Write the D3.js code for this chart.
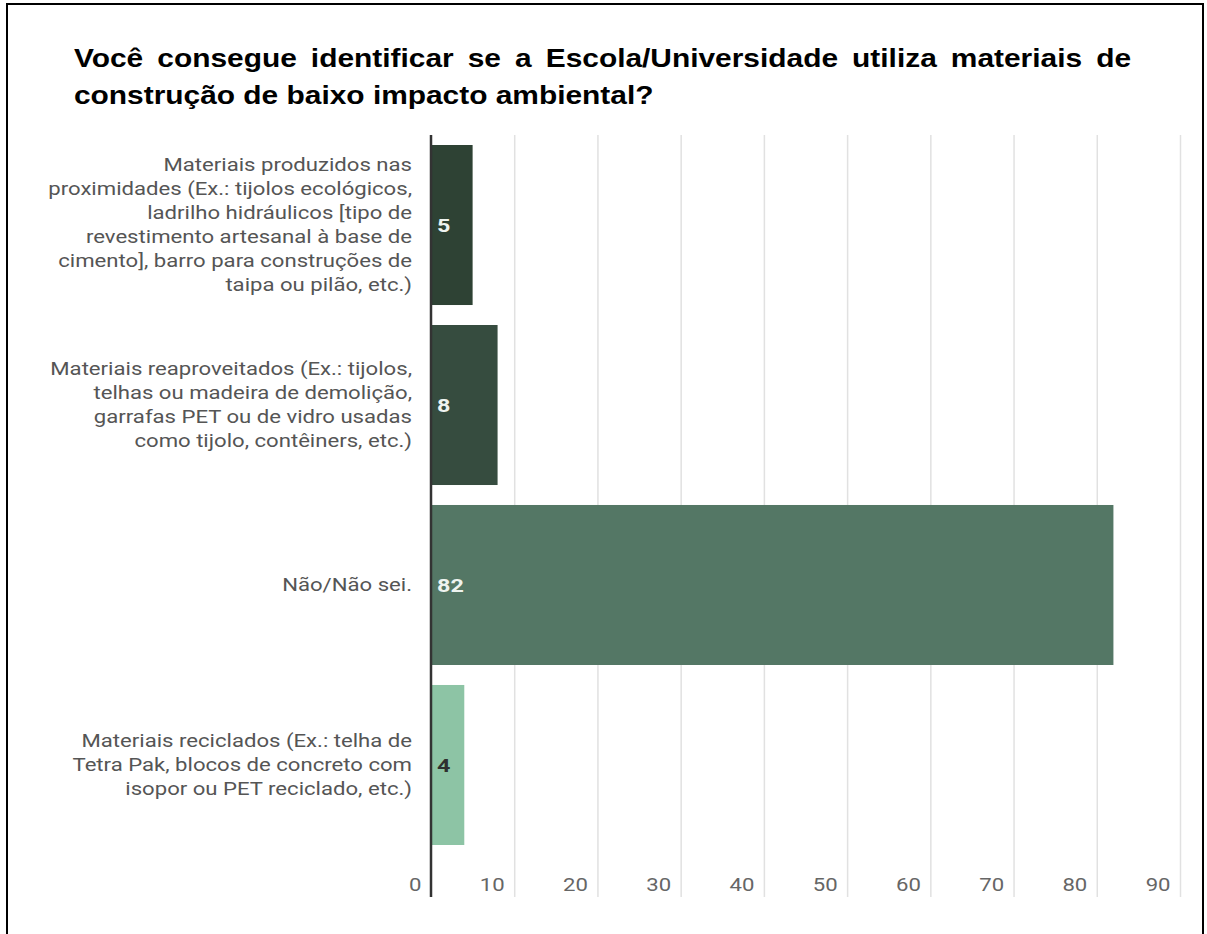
<!DOCTYPE html>
<html>
<head>
<meta charset="utf-8">
<script src="https://cdn.jsdelivr.net/npm/d3@7"></script>
<style>
  html, body { margin: 0; padding: 0; background: #fff; }
  svg { display: block; }
</style>
</head>
<body>
<svg id="chart" width="1207" height="934"></svg>
<script>
// ---- data ----
const titleLines = [
  "Você consegue identificar se a Escola/Universidade utiliza materiais de",
  "construção de baixo impacto ambiental?"
];
const categories = [
  "Materiais produzidos nas proximidades (Ex.: tijolos ecológicos, ladrilho hidráulicos [tipo de revestimento artesanal à base de cimento], barro para construções de taipa ou pilão, etc.)",
  "Materiais reaproveitados (Ex.: tijolos, telhas ou madeira de demolição, garrafas PET ou de vidro usadas como tijolo, contêiners, etc.)",
  "Não/Não sei.",
  "Materiais reciclados (Ex.: telha de Tetra Pak, blocos de concreto com isopor ou PET reciclado, etc.)"
];
const categoryLines = [
  ["Materiais produzidos nas", "proximidades (Ex.: tijolos ecológicos,", "ladrilho hidráulicos [tipo de", "revestimento artesanal à base de", "cimento], barro para construções de", "taipa ou pilão, etc.)"],
  ["Materiais reaproveitados (Ex.: tijolos,", "telhas ou madeira de demolição,", "garrafas PET ou de vidro usadas", "como tijolo, contêiners, etc.)"],
  ["Não/Não sei."],
  ["Materiais reciclados (Ex.: telha de", "Tetra Pak, blocos de concreto com", "isopor ou PET reciclado, etc.)"]
];
const values = [5, 8, 82, 4];
const barColors = ["#2e4234", "#364c3f", "#547765", "#8dc4a5"];
const valueColors = ["#eef3ef", "#eef3ef", "#eef3ef", "#2f2f2f"];
const xTicks = [0, 10, 20, 30, 40, 50, 60, 70, 80, 90];

// ---- layout ----
const svg = d3.select("#chart");
const plotTop = 135, plotBottom = 855, axisBottom = 897;
const sx = 1.23;       // horizontal stretch of the chart text glyphs
const titleSx = 1.15;  // horizontal stretch of the title glyphs

const x = d3.scaleLinear().domain([0, 90]).range([431, 1180]);
const y = d3.scaleBand().domain(categories).range([plotTop, plotBottom])
  .paddingInner(0.111).paddingOuter(0.0556);

// frame
svg.append("rect")
  .attr("x", 7).attr("y", 4).attr("width", 1196).attr("height", 960)
  .attr("fill", "none").attr("stroke", "#000").attr("stroke-width", 2);

// title, justified across the first line
const titleLeft = 74, titleRight = 1131;
const titleBaselines = [67, 104];
titleLines.forEach((line, i) => {
  const t = svg.append("text")
    .attr("transform", `translate(${titleLeft},${titleBaselines[i]}) scale(${titleSx},1)`)
    .attr("font-family", "'Liberation Sans', Arial, sans-serif")
    .attr("font-weight", "bold")
    .attr("font-size", 26)
    .attr("fill", "#000")
    .text(line);
  if (i < titleLines.length - 1) {
    const natural = t.node().getComputedTextLength();
    const spaces = line.split(" ").length - 1;
    const avail = (titleRight - titleLeft) / titleSx;
    t.attr("word-spacing", (avail - natural) / spaces);
  }
});

// vertical gridlines + tick labels
const xAxis = d3.axisBottom(x)
  .tickValues(xTicks)
  .tickSize(-(axisBottom - plotTop))
  .tickFormat(d3.format("d"));
const gx = svg.append("g")
  .attr("transform", `translate(0,${axisBottom})`)
  .call(xAxis);
gx.select(".domain").remove();
gx.selectAll(".tick line")
  .attr("stroke", d => d === 0 ? "none" : "#e1e1e1")
  .attr("stroke-width", 1.5);
gx.selectAll(".tick text")
  .attr("y", 0)
  .attr("dy", "-0.35em")
  .attr("x", -10 / sx)
  .attr("transform", `scale(${sx},1)`)
  .attr("text-anchor", "end")
  .attr("font-family", "Roboto, sans-serif")
  .attr("font-size", 18)
  .attr("fill", "#666");

// bars
svg.append("g").selectAll("rect")
  .data(values)
  .join("rect")
  .attr("x", x(0))
  .attr("y", (d, i) => y(categories[i]))
  .attr("width", d => x(d) - x(0))
  .attr("height", y.bandwidth())
  .attr("fill", (d, i) => barColors[i]);

// value labels inside the bars
svg.append("g").selectAll("text")
  .data(values)
  .join("text")
  .attr("transform", (d, i) => `translate(${x(0) + 6},${y(categories[i]) + y.bandwidth() / 2}) scale(${sx},1)`)
  .attr("dy", "0.36em")
  .attr("font-family", "Roboto, sans-serif")
  .attr("font-weight", "bold")
  .attr("font-size", 19)
  .attr("fill", (d, i) => valueColors[i])
  .text(d => d);

// category labels, right-aligned against the axis
const lineH = 24;
const labels = svg.append("g").selectAll("text")
  .data(categories)
  .join("text")
  .attr("transform", (d, i) => {
    const cy = y(d) + y.bandwidth() / 2 - (categoryLines[i].length - 1) * lineH / 2;
    return `translate(412,${cy}) scale(${sx},1)`;
  })
  .attr("text-anchor", "end")
  .attr("font-family", "Roboto, sans-serif")
  .attr("font-size", 18)
  .attr("fill", "#555");
labels.each(function(d, i) {
  d3.select(this).selectAll("tspan")
    .data(categoryLines[i])
    .join("tspan")
    .attr("x", 0)
    .attr("y", (l, j) => j * lineH)
    .attr("dy", "0.35em")
    .text(l => l);
});

// category axis line
svg.append("line")
  .attr("x1", x(0)).attr("x2", x(0))
  .attr("y1", plotTop).attr("y2", axisBottom)
  .attr("stroke", "#333").attr("stroke-width", 2.5);
</script>
</body>
</html>
